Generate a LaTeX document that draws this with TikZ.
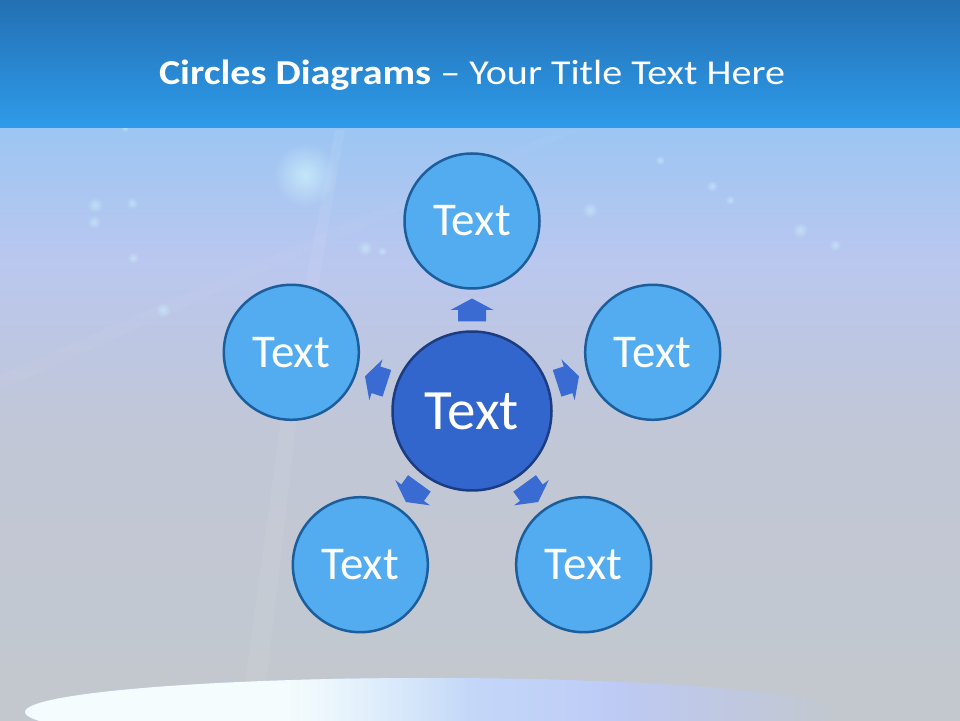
\documentclass[tikz,border=0pt]{standalone}
\usepackage{fontspec}
\setmainfont{Carlito}
\usetikzlibrary{calc, fadings}

\definecolor{barTop}{HTML}{2370B3}
\definecolor{barBottom}{HTML}{2E9BEA}
\definecolor{skyTop}{HTML}{9CC6F3}
\definecolor{skyMid}{HTML}{BAC7EF}
\definecolor{skyLow}{HTML}{C1C7D6}
\definecolor{skyGround}{HTML}{C3C8CE}
\definecolor{glowLav}{HTML}{BDCAF7}
\definecolor{glowBlue}{HTML}{CBE5FA}
\definecolor{ringFill}{HTML}{53ACEF}
\definecolor{ringLine}{HTML}{1C5E9C}
\definecolor{hubFill}{HTML}{3366CC}
\definecolor{hubLine}{HTML}{1B3C80}
\definecolor{arrowBlue}{HTML}{3A6BD2}

\tikzfading[name=softglow, inner color=transparent!0, outer color=transparent!100]
\tikzfading[name=fadeRight, left color=transparent!0, right color=transparent!100]
\tikzfading[name=fadeLeft, left color=transparent!100, right color=transparent!0]

\tikzset{
  ring/.style={circle, draw=ringLine, fill=ringFill, line width=2.5pt,
    minimum size=135pt, inner sep=0pt, text=white,
    font=\fontsize{47}{47}\selectfont},
  hub/.style={circle, draw=hubLine, fill=hubFill, line width=2.5pt,
    minimum size=159pt, inner sep=0pt, text=white,
    font=\fontsize{57}{57}\selectfont},
  blockarrow/.style={fill=arrowBlue},
  sparkle/.style={fill=white!80!cyan, path fading=softglow}
}

\begin{document}
\begin{tikzpicture}[x=1pt,y=1pt]
\useasboundingbox (0,0) rectangle (960,720);
\clip (0,0) rectangle (960,720);
% Background below the title bar, in three bands
\shade[top color=skyTop, bottom color=skyMid] (0,460) rectangle (960,592);
\shade[top color=skyMid, bottom color=skyLow] (0,290) rectangle (960,460.5);
\shade[top color=skyLow, bottom color=skyGround] (0,0) rectangle (960,290.5);
% Faint light rays
\fill[white, opacity=.06] (285,330) -- (300,330) -- (262,0) -- (240,0) -- cycle;
\fill[white, opacity=.07] (335,590) -- (345,590) -- (300,330) -- (285,330) -- cycle;
\fill[white, opacity=.03] (0,330) -- (0,345) -- (560,590) -- (580,590) -- cycle;
% Glows and sparkles
\fill[sparkle, opacity=.8] (305,545) circle (32);
\foreach \x/\y/\r in {95/515/8, 132/517/6, 94/498/7, 365/472/8, 382/469/5,
  590/510/8, 712/534/6, 800/490/8, 835/475/6, 163/410/8, 133/462/6,
  660/560/5, 730/520/5, 125/592/4}
  \fill[sparkle, opacity=.6] (\x,\y) circle (\r);
% Title bar
\shade[top color=barTop, bottom color=barBottom] (0,592) rectangle (960,720);
\node[text=white, font=\fontsize{35}{35}\selectfont, anchor=base,
  xscale=1.145, transform shape] (title) at (472,635)
  {\textbf{Circles Diagrams} -- Your Title Text Here};
% Glow ellipse at the bottom
\begin{scope}
\clip (430,8) ellipse (405 and 34);
\fill[glowLav] (0,-30) rectangle (960,50);
\fill[glowBlue, path fading=fadeRight] (300,-30) rectangle (640,50);
\fill[white!96!cyan] (0,-30) rectangle (290,50);
\fill[white!96!cyan, path fading=fadeRight] (289,-30) rectangle (470,50);
\fill[skyGround, path fading=fadeLeft] (600,-30) rectangle (840,50);
\end{scope}
% Hub and the five outer circles
\node[hub] (c) at (472,309) {Text};
\foreach \a [count=\i] in {90,18,-54,-126,162}
  \node[ring] (o\i) at ($(c)+(\a:190)$) {Text};
% Block arrows half-way between hub and circles
\foreach \a [count=\i, evaluate=\a as \b using \a+180] in {90,18,-54,-126,162} {
  \coordinate (p\i) at ($(c.\a)!.5!(o\i.\b)$);
  \fill[blockarrow, shift={(p\i)}, rotate=\a]
    (-11.5,-14) -- (0,-14) -- (0,-21.5) -- (11.5,0) -- (0,21.5)
    -- (0,14) -- (-11.5,14) -- cycle;
}
\end{tikzpicture}
\end{document}
